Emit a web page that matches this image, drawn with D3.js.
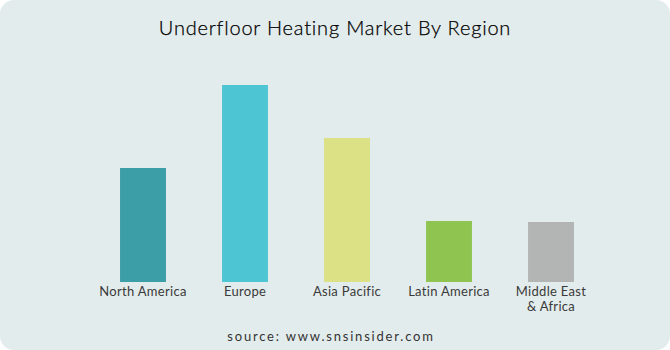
<!DOCTYPE html>
<html>
<head>
<meta charset="utf-8">
<script src="https://cdn.jsdelivr.net/npm/d3@7"></script>
<style>
  html, body { margin: 0; padding: 0; background: #ffffff; }
  svg { display: block; }
</style>
</head>
<body>
<div id="chart"></div>
<script>
// regions and bar heights (no axis shown, relative size)
const regions = ['North America', 'Europe', 'Asia Pacific', 'Latin America', 'Middle East & Africa']
const labelLines = [['North America'], ['Europe'], ['Asia Pacific'], ['Latin America'], ['Middle East', '& Africa']]
const values = [114, 197, 144, 61, 60]
const colors = ['#3c9ea6', '#4dc5d3', '#dbe184', '#8fc451', '#b3b4b4']

const w = 670
const h = 350
const baseY = 282

const svg = d3.select('#chart')
    .append('svg')
    .attr('width', w)
    .attr('height', h)

// panel
svg.append('rect')
    .attr('x', 0).attr('y', 0)
    .attr('width', w).attr('height', h)
    .attr('rx', 14).attr('ry', 14)
    .attr('fill', '#e3ecec')

svg.append('text')
    .attr('x', 335)
    .attr('y', 35)
    .attr('text-anchor', 'middle')
    .attr('font-family', 'Lato, sans-serif')
    .attr('font-weight', 300)
    .attr('font-size', 20)
    .attr('letter-spacing', 0.8)
    .attr('fill', '#000')
    .attr('stroke', '#000')
    .attr('stroke-width', 0.25)
    .text('Underfloor Heating Market By Region')

const xScale = d3.scaleBand()
    .domain(regions)
    .range([92, 602])
    .paddingInner(0.55)
    .paddingOuter(0.275)

const yScale = d3.scaleLinear()
    .domain([0, 197])
    .range([baseY, 85])

svg.selectAll('rect.bar')
    .data(values)
    .enter()
    .append('rect')
    .attr('class', 'bar')
    .attr('x', (d, i) => xScale(regions[i]))
    .attr('y', (d) => yScale(d))
    .attr('width', xScale.bandwidth())
    .attr('height', (d) => baseY - yScale(d))
    .attr('fill', (d, i) => colors[i])

const labels = svg.selectAll('text.lbl')
    .data(labelLines)
    .enter()
    .append('text')
    .attr('class', 'lbl')
    .attr('text-anchor', 'middle')
    .attr('font-family', 'Lato, sans-serif')
    .attr('font-size', 13)
    .attr('letter-spacing', 0.3)
    .attr('fill', '#3a3a3a')
    .attr('transform', (d, i) => 'translate(' + (xScale(regions[i]) + xScale.bandwidth() / 2) + ',' + 296 + ')')

labels.selectAll('tspan')
    .data((d) => d)
    .enter()
    .append('tspan')
    .attr('x', 0)
    .attr('dy', (d, i) => i === 0 ? 0 : 15)
    .text((d) => d)

svg.append('text')
    .attr('x', 331)
    .attr('y', 341)
    .attr('text-anchor', 'middle')
    .attr('font-family', 'Lato, sans-serif')
    .attr('font-size', 13)
    .attr('letter-spacing', 1.8)
    .attr('fill', '#333')
    .text('source: www.snsinsider.com')
</script>
</body>
</html>
